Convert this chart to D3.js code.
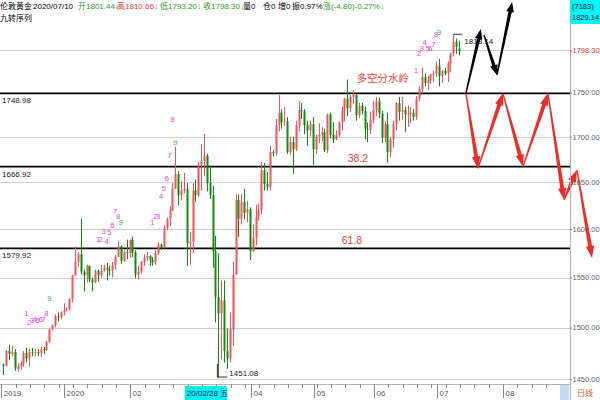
<!DOCTYPE html>
<html><head><meta charset="utf-8">
<script src="https://cdn.jsdelivr.net/npm/d3@7"></script>
<style>body{margin:0;background:#fff}svg{display:block;font-family:"Liberation Sans","Noto Sans CJK SC",sans-serif}</style>
</head><body><svg id="c" width="600" height="400"></svg>
<script>
// ---- DATA (open, high, low, close) per trading day ----
const dec2019 = [[1464,1465,1454,1463],[1463,1478,1462,1477],[1477,1483,1468,1474],[1474,1482,1472,1476],[1476,1479,1458,1460],[1460,1465,1457,1462],[1462,1467,1459,1465],[1465,1477,1462,1475],[1475,1480,1466,1470],[1470,1479,1462,1476],[1476,1480,1472,1475],[1475,1479,1472,1476],[1476,1479,1472,1475],[1475,1481,1471,1479],[1479,1481,1474,1478],[1478,1487,1477,1486],[1486,1499,1485,1498],[1498,1503,1497,1502],[1502,1513,1500,1511],[1511,1515,1506,1510],[1510,1516,1508,1515],[1515,1524,1512,1517]];
const jan2020 = [[1517,1520,1516,1518],[1518,1529,1517,1528],[1528,1553,1525,1552],[1552,1582,1552,1566],[1566,1576,1561,1574],[1574,1611,1553,1556],[1556,1558,1536,1552],[1552,1563,1545,1562],[1562,1562,1545,1548],[1548,1550,1536,1545],[1545,1558,1544,1557],[1557,1558,1546,1552],[1552,1563,1550,1557],[1557,1563,1556,1560],[1560,1565,1547,1558],[1558,1562,1552,1557],[1557,1566,1550,1563],[1563,1573,1558,1571],[1571,1588,1571,1582],[1582,1583,1564,1567],[1567,1578,1566,1576],[1576,1589,1569,1575],[1575,1589,1570,1589]];
const feb2020 = [[1589,1592,1571,1576],[1576,1578,1549,1553],[1553,1562,1548,1556],[1556,1567,1554,1566],[1566,1574,1562,1570],[1570,1576,1567,1572],[1572,1573,1562,1568],[1568,1571,1562,1565],[1565,1578,1563,1575],[1575,1586,1573,1584],[1584,1585,1578,1581],[1581,1604,1580,1601],[1601,1612,1599,1611],[1611,1624,1603,1620],[1620,1649,1619,1643],[1643,1689,1643,1659],[1659,1662,1625,1636],[1636,1651,1630,1641],[1641,1660,1638,1643],[1643,1649,1562,1585]];
const mar2020 = [[1585,1597,1563,1587],[1587,1649,1575,1641],[1641,1653,1629,1636],[1636,1672,1634,1669],[1669,1692,1641,1673],[1673,1703,1657,1679],[1679,1681,1640,1649],[1649,1668,1632,1636],[1636,1646,1560,1577],[1577,1593,1505,1530],[1530,1575,1451.08,1514],[1514,1547,1469,1527],[1527,1547,1466,1477],[1477,1499,1460,1470],[1470,1515,1466,1498],[1498,1566,1482,1553],[1553,1637,1553,1631],[1631,1637,1592,1611],[1611,1637,1605,1629],[1629,1643,1610,1617],[1617,1630,1607,1621],[1621,1623,1568,1577]];
const apr2020 = [[1577,1605,1576,1591],[1591,1626,1583,1613],[1613,1627,1609,1620],[1620,1672,1616,1663],[1663,1671,1641,1648],[1648,1661,1641,1645],[1645,1690,1641,1683],[1683,1685,1678,1682],[1682,1720,1679,1713],[1713,1747,1706,1727],[1727,1731,1709,1716],[1716,1733,1712,1717],[1717,1722,1681,1683],[1683,1700,1680,1694],[1694,1700,1659,1686],[1686,1718,1684,1713],[1713,1740,1706,1730],[1730,1738,1720,1729],[1729,1731,1703,1713],[1713,1718,1690,1707],[1707,1718,1700,1714],[1714,1722,1669,1686]];
const may2020 = [[1686,1702,1681,1700],[1700,1715,1693,1702],[1702,1711,1695,1705],[1705,1709,1683,1685],[1685,1726,1682,1725],[1725,1727,1698,1702],[1702,1716,1693,1697],[1697,1707,1696,1702],[1702,1717,1700,1716],[1716,1734,1707,1730],[1730,1744,1717,1743],[1743,1765,1723,1732],[1732,1747,1728,1745],[1745,1753,1737,1747],[1747,1748,1718,1724],[1724,1738,1721,1735],[1735,1738,1725,1729],[1729,1734,1697,1709],[1709,1716,1694,1708],[1708,1728,1703,1719],[1719,1740,1715,1730]];
const jun2020 = [[1730,1745,1723,1740],[1740,1744,1721,1726],[1726,1729,1693,1699],[1699,1717,1694,1714],[1714,1727,1671,1683],[1683,1700,1677,1697],[1697,1718,1688,1714],[1714,1739,1707,1738],[1738,1745,1718,1728],[1728,1745,1719,1730],[1730,1734,1705,1725],[1725,1735,1711,1726],[1726,1733,1715,1727],[1727,1731,1718,1722],[1722,1746,1719,1743],[1743,1757,1740,1754],[1754,1779,1750,1768],[1768,1772,1757,1761],[1761,1769,1753,1764],[1764,1771,1760,1771],[1771,1775,1762,1772],[1772,1786,1768,1781]];
const jul2020 = [[1781,1789,1757,1769],[1769,1776,1761,1775],[1775,1778,1770,1772],[1772,1786,1762,1784],[1784,1796,1774,1795],[1795,1818.14,1792,1809],[1809,1813,1795,1803.10],[1801.44,1810.66,1793.20,1798.30]];

const gridPrices = [1450,1500,1550,1600,1650,1700,1750,1800];
const axisPrices = [1450,1500,1550,1600,1650,1700,1750];
const lastPrice = 1798.30;
const keyLevels = [1748.98, 1666.92, 1579.92];
const fibText = ["38.2","61.8","多空分水岭"];
const fibIdx = [123.7, 121.6, 132.4];
const fibPrice = [1676.5, 1589, 1766.4];

// TD "九转" labels: start index of each run, label prices
const tdStart = [8, 33, 52, 144];
const tdPrices = [
  [1514,1505,1507,1508,1507,1508,1508,1514,1529],
  [1589,1589,1597.5,1587,1596.4,1603.8,1618.5,1613.2,1606.9],
  [1607.2,1612.9,1613.5,1634.1,1642.7,1653.5,1678.8,1719.6,1693.5],
  [1775.9,1795.3,1801.2,1807.8,1801.2,1801.2,1805.9,1818.1,1819.7]
];

// projected arrows: [idx, price]
const redPath = [[161.4,1748.98],[165.6,1665],[174.3,1749],[181.3,1667],[190.0,1749],[195.6,1630.8],[200.1,1663.3],[205.4,1570]];
const blackArrows = [[[161.4,1749.5],[166.6,1824.4]],[[167.7,1817.3],[172.2,1770.2]],[[172.2,1770.2],[177.5,1857]]];

const headerParts = [["伦敦黄金",0,"#000"],["2020/07/10",33,"#000"],["开1801.44↓",78,"#2a9a2a"],["高1810.66↓",117,"#e03a3a"],["低1793.20↓",160,"#2a9a2a"],["收1798.30↓",203,"#2a9a2a"],["量0",243,"#000"],["仓0",263,"#000"],["增0",278,"#000"],["振0.97%",292,"#000"],["涨(-4.80)-0.27%↓",323,"#2a9a2a"]];

// ---- BUILD ----
const bars = [].concat(dec2019,jan2020,feb2020,mar2020,apr2020,may2020,jun2020,jul2020)
  .map((d,i)=>({i,o:d[0],h:d[1],l:d[2],c:d[3]}));
const N = bars.length;
const days=[];
for(let d=new Date(Date.UTC(2019,11,2)); days.length<200; d.setUTCDate(d.getUTCDate()+1)){
  const w=d.getUTCDay(); if(w>0&&w<6) days.push(new Date(d));
}

const svg = d3.select("#c");
const PR = 570, AY = 384;
const x = d3.scaleLinear().domain([0,N-1]).range([3.4, 3.4+(N-1)*2.866]);
const y = d3.scaleLog().domain([1500,1750]).range([327.5,92.5]);
const RED="#f0545a", GREEN="#108c10", MAG="#dc46dc", TDG="#36b336";
const AXF = 7.5;

// gridlines
svg.append("g").selectAll("line").data(gridPrices).join("line")
  .attr("x1",0).attr("x2",PR)
  .attr("y1",d=>Math.round(y(d))+0.5).attr("y2",d=>Math.round(y(d))+0.5)
  .attr("stroke","#cfcfcf").attr("stroke-width",1);

// key levels
svg.append("g").selectAll("line").data(keyLevels).join("line")
  .attr("x1",0).attr("x2",PR).attr("y1",d=>y(d)).attr("y2",d=>y(d))
  .attr("stroke","#000").attr("stroke-width",1.6);
svg.append("g").selectAll("text").data(keyLevels).join("text")
  .attr("x",2).attr("y",d=>y(d)+10).attr("font-size",8).attr("fill","#222")
  .text(d=>d.toFixed(2));

// candles
const cg = svg.append("g");
cg.selectAll("line").data(bars).join("line")
  .attr("x1",d=>Math.round(x(d.i))+0.5).attr("x2",d=>Math.round(x(d.i))+0.5)
  .attr("y1",d=>y(d.h)).attr("y2",d=>y(d.l))
  .attr("stroke",d=>d.c>=d.o?RED:GREEN).attr("stroke-width",1);
cg.selectAll("rect").data(bars).join("rect")
  .attr("x",d=>Math.round(x(d.i))-0.5).attr("width",2)
  .attr("y",d=>Math.min(y(d.o),y(d.c)))
  .attr("height",d=>Math.max(1,Math.abs(y(d.o)-y(d.c))))
  .attr("fill",d=>d.c>=d.o?RED:GREEN);

// TD labels
const tdData=[];
tdStart.forEach((s,g)=>tdPrices[g].forEach((p,k)=>tdData.push({i:s+k,p,t:String(k+1)})));
svg.append("g").selectAll("text").data(tdData).join("text")
  .attr("x",d=>x(d.i)).attr("y",d=>y(d.p)).attr("text-anchor","middle")
  .attr("dominant-baseline","central").attr("font-size",7.5)
  .attr("fill",d=>d.t==="9"?TDG:MAG).text(d=>d.t);

// max / min markers
const hiBar = bars.reduce((a,b)=>b.h>a.h?b:a), loBar = bars.reduce((a,b)=>b.l<a.l?b:a);
svg.append("line").attr("x1",x(hiBar.i)).attr("x2",x(hiBar.i)+9).attr("y1",y(hiBar.h)).attr("y2",y(hiBar.h)).attr("stroke","#333");
svg.append("text").attr("x",x(hiBar.i)+11).attr("y",y(hiBar.h)+10).attr("font-size",8).attr("fill","#222").text(hiBar.h.toFixed(2));
svg.append("line").attr("x1",x(loBar.i)-1).attr("x2",x(loBar.i)+9).attr("y1",y(loBar.l)-1).attr("y2",y(loBar.l)-1).attr("stroke","#333");
svg.append("line").attr("x1",x(loBar.i)-1).attr("x2",x(loBar.i)-1).attr("y1",y(loBar.l)-14).attr("y2",y(loBar.l)-1).attr("stroke","#333");
svg.append("text").attr("x",x(loBar.i)+11).attr("y",y(loBar.l)-2).attr("font-size",8).attr("fill","#222").text(loBar.l.toFixed(2));

// fib / annotation texts
svg.append("g").selectAll("text").data(fibText).join("text")
  .attr("x",(d,k)=>x(fibIdx[k])).attr("y",(d,k)=>y(fibPrice[k]))
  .attr("text-anchor","middle").attr("dominant-baseline","central")
  .attr("font-size",10.5).attr("fill","#e8413a").text(d=>d);

// arrows
function arrowPath(a,b,w0,w1,hl,hw){
  const dx=b[0]-a[0], dy=b[1]-a[1], L=Math.hypot(dx,dy);
  const ux=dx/L, uy=dy/L, nx=-uy, ny=ux;
  const bx=b[0]-ux*hl, by=b[1]-uy*hl;
  return d3.line()([[a[0]+nx*w0,a[1]+ny*w0],[bx+nx*w1,by+ny*w1],[bx+nx*hw,by+ny*hw],b,
    [bx-nx*hw,by-ny*hw],[bx-nx*w1,by-ny*w1],[a[0]-nx*w0,a[1]-ny*w0]])+"Z";
}
const P = d=>[x(d[0]),y(d[1])];
const redSegs = d3.pairs(redPath);
svg.append("g").selectAll("path").data(redSegs).join("path")
  .attr("d",s=>arrowPath(P(s[0]),P(s[1]),0.6,2.0,12,4.2)).attr("fill","#ea2e2a");
svg.append("g").selectAll("path").data(blackArrows).join("path")
  .attr("d",s=>arrowPath(P(s[0]),P(s[1]),0.7,1.7,10,3.8)).attr("fill","#000");

// right axis
svg.append("line").attr("x1",PR+0.5).attr("x2",PR+0.5).attr("y1",0).attr("y2",400).attr("stroke","#b4b4b4");
const ra = svg.append("g").attr("transform",`translate(${PR},0)`)
  .call(d3.axisRight(y).tickValues(axisPrices).tickFormat(d3.format(".2f")).tickSize(2).tickPadding(0.5));
ra.select(".domain").remove();
ra.selectAll("line").attr("stroke","#888");
ra.selectAll("text").attr("font-size",AXF).attr("fill","#666").attr("font-family",null);
const lp = svg.append("g").attr("transform",`translate(${PR},${y(lastPrice)})`);
lp.append("line").attr("x2",2).attr("stroke","#e03030");
lp.append("text").attr("x",2.5).attr("dy","0.32em").attr("font-size",AXF).attr("fill","#e03030").text(lastPrice.toFixed(2));

// top-right box
svg.append("rect").attr("x",PR).attr("y",0).attr("width",30).attr("height",24).attr("fill","#00f5f5");
svg.append("text").attr("x",PR+2).attr("y",9).attr("font-size",AXF).attr("fill","#113").text("(7183)");
svg.append("text").attr("x",PR+2).attr("y",20).attr("font-size",AXF).attr("fill","#113").text("1829.14");

// bottom axis
const cur = 64;
const boxL = x(cur)-2, boxR = boxL+42;
svg.append("line").attr("x1",0).attr("x2",PR).attr("y1",AY+0.5).attr("y2",AY+0.5).attr("stroke","#b4b4b4");
const monthIdx = days.map((d,i)=>i).filter(i=>i===0||days[i].getUTCMonth()!==days[i-1].getUTCMonth());
const mondayIdx = days.map((d,i)=>i).filter(i=>days[i].getUTCDay()===1&&!monthIdx.includes(i));
const xs = i=>Math.round(x(i))-1.5;
svg.append("g").selectAll("line").data(mondayIdx.filter(i=>xs(i)<558)).join("line")
  .attr("x1",xs).attr("x2",xs).attr("y1",AY).attr("y2",AY+4).attr("stroke","#888");
const mIdx = monthIdx.filter(i=>xs(i)<558);
svg.append("g").selectAll("line").data(mIdx).join("line")
  .attr("x1",xs).attr("x2",xs).attr("y1",AY).attr("y2",AY+14).attr("stroke","#888");
svg.append("g").selectAll("text").data(mIdx.filter(i=>xs(i)+14<boxL||xs(i)>boxR)).join("text")
  .attr("x",i=>xs(i)+2).attr("y",AY+12).attr("font-size",8).attr("fill","#555")
  .text(i=>{const d=days[i]; if(i===0||d.getUTCMonth()===0) return String(d.getUTCFullYear()); return String(d.getUTCMonth()+1).padStart(2,"0");});

// cursor date box
svg.append("rect").attr("x",boxL).attr("y",AY+2).attr("width",42).attr("height",14).attr("fill","#00f0f0");
svg.append("text").attr("x",x(cur)).attr("y",AY+12).attr("font-size",8).attr("fill","#102060")
  .text(d3.utcFormat("%y/%m/%d")(days[cur])+" 五");
svg.append("rect").attr("x",560).attr("y",AY+1).attr("width",9).attr("height",15).attr("fill","#c2daf4");
svg.append("text").attr("x",577).attr("y",AY+12).attr("font-size",8).attr("fill","#e4502a").text("日线");

// header
svg.append("g").selectAll("text").data(headerParts).join("text")
  .attr("x",d=>d[1]).attr("y",9).attr("font-size",8).attr("fill",d=>d[2]).text(d=>d[0]);
svg.append("text").attr("x",0).attr("y",21).attr("font-size",8).attr("fill","#000").text("九转序列");
</script></body></html>
